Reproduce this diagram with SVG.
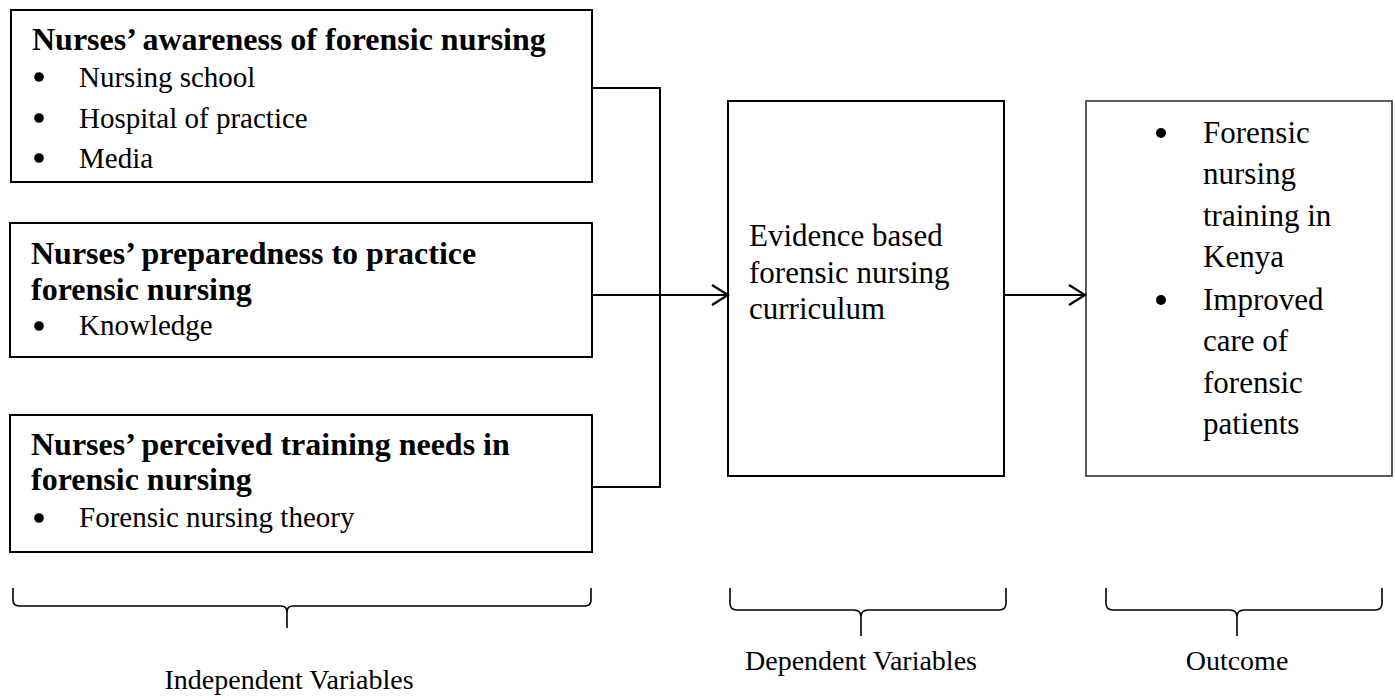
<svg xmlns="http://www.w3.org/2000/svg" width="1395" height="700" viewBox="0 0 1395 700">
<style>
  .box { fill: #fff; stroke: #000; stroke-width: 2; }
  .box5 { fill: #fff; stroke: #333; stroke-width: 1.6; }
  .t { font-family: "Liberation Serif", "Times New Roman", serif; fill: #000; }
  .h { font-size: 32px; font-weight: bold; }
  .b { font-size: 29px; }
  .L { font-size: 31px; }
  .lbl { font-size: 28px; text-anchor: middle; }
  .bul { fill: #000; }
  .ln { fill: none; stroke: #000; stroke-width: 2; }
  .br { fill: none; stroke: #000; stroke-width: 1.6; }
</style>
<defs>
  <marker id="arr" markerWidth="20" markerHeight="24" refX="17" refY="11" orient="auto" markerUnits="userSpaceOnUse">
    <path d="M1,1 L17,11 L1,21" fill="none" stroke="#000" stroke-width="2.2"/>
  </marker>
</defs>

<g id="awareness">
  <rect class="box" x="11" y="10" width="581" height="172"/>
  <text class="t h" x="32" y="50">Nurses’ awareness of forensic nursing</text>
  <circle class="bul" cx="39" cy="77" r="4.8"/>
  <text class="t b" x="79" y="87">Nursing school</text>
  <circle class="bul" cx="39" cy="118" r="4.8"/>
  <text class="t b" x="79" y="128">Hospital of practice</text>
  <circle class="bul" cx="39" cy="158" r="4.8"/>
  <text class="t b" x="79" y="168">Media</text>
</g>

<g id="preparedness">
  <rect class="box" x="10" y="223" width="582" height="134"/>
  <text class="t h" x="31" y="264">Nurses’ preparedness to practice</text>
  <text class="t h" x="31" y="300">forensic nursing</text>
  <circle class="bul" cx="39" cy="326" r="4.8"/>
  <text class="t b" x="79" y="335">Knowledge</text>
</g>

<g id="training-needs">
  <rect class="box" x="10" y="415" width="582" height="137"/>
  <text class="t h" x="31" y="455">Nurses’ perceived training needs in</text>
  <text class="t h" x="31" y="490">forensic nursing</text>
  <circle class="bul" cx="39" cy="518" r="4.8"/>
  <text class="t b" x="79" y="527">Forensic nursing theory</text>
</g>

<g id="curriculum">
  <rect class="box" x="728" y="101" width="276" height="375"/>
  <text class="t L" x="749" y="246">Evidence based</text>
  <text class="t L" x="749" y="283">forensic nursing</text>
  <text class="t L" x="749" y="319">curriculum</text>
</g>

<g id="outcome-box">
  <rect class="box5" x="1086" y="101" width="306" height="375"/>
  <circle class="bul" cx="1161" cy="133" r="5"/>
  <text class="t L" x="1203" y="143">Forensic</text>
  <text class="t L" x="1203" y="184">nursing</text>
  <text class="t L" x="1203" y="226">training in</text>
  <text class="t L" x="1203" y="267">Kenya</text>
  <circle class="bul" cx="1161" cy="300" r="5"/>
  <text class="t L" x="1203" y="310">Improved</text>
  <text class="t L" x="1203" y="351">care of</text>
  <text class="t L" x="1203" y="393">forensic</text>
  <text class="t L" x="1203" y="434">patients</text>
</g>

<g id="connectors">
  <path class="ln" d="M592,88 H660 V487 H592"/>
  <path class="ln" d="M592,295 H728" marker-end="url(#arr)"/>
  <path class="ln" d="M1004,295 H1085" marker-end="url(#arr)"/>
</g>

<g id="brace-independent">
  <path class="br" d="M13,588 V600 Q13,606 19,606 H281 Q287,606 287,612 V628 M287,612 Q287,606 293,606 H585 Q591,606 591,600 V588"/>
  <text class="t lbl" x="289" y="689">Independent Variables</text>
</g>

<g id="brace-dependent">
  <path class="br" d="M730,588 V603 Q730,610 737,610 H854 Q861,610 861,617 V636 M861,617 Q861,610 868,610 H999 Q1006,610 1006,603 V588"/>
  <text class="t lbl" x="861" y="670">Dependent Variables</text>
</g>

<g id="brace-outcome">
  <path class="br" d="M1106,588 V603 Q1106,610 1113,610 H1230 Q1237,610 1237,617 V636 M1237,617 Q1237,610 1244,610 H1375 Q1382,610 1382,603 V588"/>
  <text class="t lbl" x="1237" y="670">Outcome</text>
</g>
</svg>
